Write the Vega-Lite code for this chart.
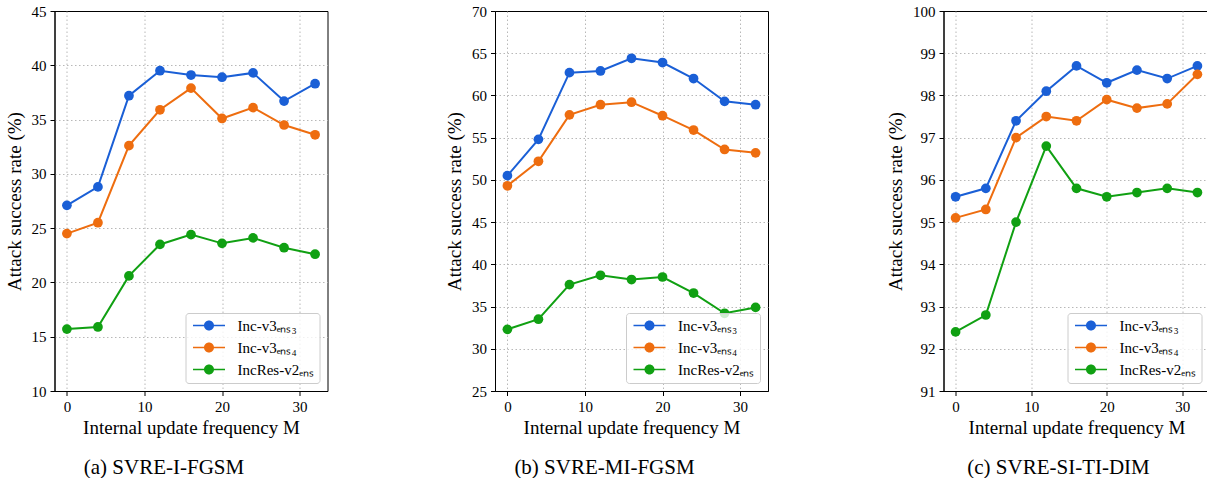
{
  "$schema": "https://vega.github.io/schema/vega-lite/v6.json",
  "background": "white",
  "padding": {"left": 4.5, "top": 3, "right": 0, "bottom": 0},
  "spacing": 116.5,
  "data": {"values": [
    {"panel": "a", "model": "Inc-v3ens3", "M": 0, "rate": 27.1},
    {"panel": "a", "model": "Inc-v3ens3", "M": 4, "rate": 28.8},
    {"panel": "a", "model": "Inc-v3ens3", "M": 8, "rate": 37.2},
    {"panel": "a", "model": "Inc-v3ens3", "M": 12, "rate": 39.5},
    {"panel": "a", "model": "Inc-v3ens3", "M": 16, "rate": 39.1},
    {"panel": "a", "model": "Inc-v3ens3", "M": 20, "rate": 38.9},
    {"panel": "a", "model": "Inc-v3ens3", "M": 24, "rate": 39.3},
    {"panel": "a", "model": "Inc-v3ens3", "M": 28, "rate": 36.7},
    {"panel": "a", "model": "Inc-v3ens3", "M": 32, "rate": 38.3},
    {"panel": "a", "model": "Inc-v3ens4", "M": 0, "rate": 24.5},
    {"panel": "a", "model": "Inc-v3ens4", "M": 4, "rate": 25.5},
    {"panel": "a", "model": "Inc-v3ens4", "M": 8, "rate": 32.6},
    {"panel": "a", "model": "Inc-v3ens4", "M": 12, "rate": 35.9},
    {"panel": "a", "model": "Inc-v3ens4", "M": 16, "rate": 37.9},
    {"panel": "a", "model": "Inc-v3ens4", "M": 20, "rate": 35.1},
    {"panel": "a", "model": "Inc-v3ens4", "M": 24, "rate": 36.1},
    {"panel": "a", "model": "Inc-v3ens4", "M": 28, "rate": 34.5},
    {"panel": "a", "model": "Inc-v3ens4", "M": 32, "rate": 33.6},
    {"panel": "a", "model": "IncRes-v2ens", "M": 0, "rate": 15.7},
    {"panel": "a", "model": "IncRes-v2ens", "M": 4, "rate": 15.9},
    {"panel": "a", "model": "IncRes-v2ens", "M": 8, "rate": 20.6},
    {"panel": "a", "model": "IncRes-v2ens", "M": 12, "rate": 23.5},
    {"panel": "a", "model": "IncRes-v2ens", "M": 16, "rate": 24.4},
    {"panel": "a", "model": "IncRes-v2ens", "M": 20, "rate": 23.6},
    {"panel": "a", "model": "IncRes-v2ens", "M": 24, "rate": 24.1},
    {"panel": "a", "model": "IncRes-v2ens", "M": 28, "rate": 23.2},
    {"panel": "a", "model": "IncRes-v2ens", "M": 32, "rate": 22.6},
    {"panel": "b", "model": "Inc-v3ens3", "M": 0, "rate": 50.5},
    {"panel": "b", "model": "Inc-v3ens3", "M": 4, "rate": 54.8},
    {"panel": "b", "model": "Inc-v3ens3", "M": 8, "rate": 62.7},
    {"panel": "b", "model": "Inc-v3ens3", "M": 12, "rate": 62.9},
    {"panel": "b", "model": "Inc-v3ens3", "M": 16, "rate": 64.4},
    {"panel": "b", "model": "Inc-v3ens3", "M": 20, "rate": 63.9},
    {"panel": "b", "model": "Inc-v3ens3", "M": 24, "rate": 62.0},
    {"panel": "b", "model": "Inc-v3ens3", "M": 28, "rate": 59.3},
    {"panel": "b", "model": "Inc-v3ens3", "M": 32, "rate": 58.9},
    {"panel": "b", "model": "Inc-v3ens4", "M": 0, "rate": 49.3},
    {"panel": "b", "model": "Inc-v3ens4", "M": 4, "rate": 52.2},
    {"panel": "b", "model": "Inc-v3ens4", "M": 8, "rate": 57.7},
    {"panel": "b", "model": "Inc-v3ens4", "M": 12, "rate": 58.9},
    {"panel": "b", "model": "Inc-v3ens4", "M": 16, "rate": 59.2},
    {"panel": "b", "model": "Inc-v3ens4", "M": 20, "rate": 57.6},
    {"panel": "b", "model": "Inc-v3ens4", "M": 24, "rate": 55.9},
    {"panel": "b", "model": "Inc-v3ens4", "M": 28, "rate": 53.6},
    {"panel": "b", "model": "Inc-v3ens4", "M": 32, "rate": 53.2},
    {"panel": "b", "model": "IncRes-v2ens", "M": 0, "rate": 32.3},
    {"panel": "b", "model": "IncRes-v2ens", "M": 4, "rate": 33.5},
    {"panel": "b", "model": "IncRes-v2ens", "M": 8, "rate": 37.6},
    {"panel": "b", "model": "IncRes-v2ens", "M": 12, "rate": 38.7},
    {"panel": "b", "model": "IncRes-v2ens", "M": 16, "rate": 38.2},
    {"panel": "b", "model": "IncRes-v2ens", "M": 20, "rate": 38.5},
    {"panel": "b", "model": "IncRes-v2ens", "M": 24, "rate": 36.6},
    {"panel": "b", "model": "IncRes-v2ens", "M": 28, "rate": 34.2},
    {"panel": "b", "model": "IncRes-v2ens", "M": 32, "rate": 34.9},
    {"panel": "c", "model": "Inc-v3ens3", "M": 0, "rate": 95.6},
    {"panel": "c", "model": "Inc-v3ens3", "M": 4, "rate": 95.8},
    {"panel": "c", "model": "Inc-v3ens3", "M": 8, "rate": 97.4},
    {"panel": "c", "model": "Inc-v3ens3", "M": 12, "rate": 98.1},
    {"panel": "c", "model": "Inc-v3ens3", "M": 16, "rate": 98.7},
    {"panel": "c", "model": "Inc-v3ens3", "M": 20, "rate": 98.3},
    {"panel": "c", "model": "Inc-v3ens3", "M": 24, "rate": 98.6},
    {"panel": "c", "model": "Inc-v3ens3", "M": 28, "rate": 98.4},
    {"panel": "c", "model": "Inc-v3ens3", "M": 32, "rate": 98.7},
    {"panel": "c", "model": "Inc-v3ens4", "M": 0, "rate": 95.1},
    {"panel": "c", "model": "Inc-v3ens4", "M": 4, "rate": 95.3},
    {"panel": "c", "model": "Inc-v3ens4", "M": 8, "rate": 97.0},
    {"panel": "c", "model": "Inc-v3ens4", "M": 12, "rate": 97.5},
    {"panel": "c", "model": "Inc-v3ens4", "M": 16, "rate": 97.4},
    {"panel": "c", "model": "Inc-v3ens4", "M": 20, "rate": 97.9},
    {"panel": "c", "model": "Inc-v3ens4", "M": 24, "rate": 97.7},
    {"panel": "c", "model": "Inc-v3ens4", "M": 28, "rate": 97.8},
    {"panel": "c", "model": "Inc-v3ens4", "M": 32, "rate": 98.5},
    {"panel": "c", "model": "IncRes-v2ens", "M": 0, "rate": 92.4},
    {"panel": "c", "model": "IncRes-v2ens", "M": 4, "rate": 92.8},
    {"panel": "c", "model": "IncRes-v2ens", "M": 8, "rate": 95.0},
    {"panel": "c", "model": "IncRes-v2ens", "M": 12, "rate": 96.8},
    {"panel": "c", "model": "IncRes-v2ens", "M": 16, "rate": 95.8},
    {"panel": "c", "model": "IncRes-v2ens", "M": 20, "rate": 95.6},
    {"panel": "c", "model": "IncRes-v2ens", "M": 24, "rate": 95.7},
    {"panel": "c", "model": "IncRes-v2ens", "M": 28, "rate": 95.8},
    {"panel": "c", "model": "IncRes-v2ens", "M": 32, "rate": 95.7}
  ]},
  "hconcat": [
    {
      "width": 273, "height": 380,
      "title": {"text": "(a) SVRE-I-FGSM", "orient": "bottom", "dx": -27},
      "transform": [{"filter": "datum.panel === 'a'"}],
      "encoding": {
        "x": {"field": "M", "type": "quantitative", "scale": {"domain": [-1.6, 33.6], "nice": false, "zero": false}, "axis": {"values": [0, 10, 20, 30], "title": "Internal update frequency M"}},
        "y": {"field": "rate", "type": "quantitative", "scale": {"domain": [10, 45], "nice": false, "zero": false}, "axis": {"values": [10, 15, 20, 25, 30, 35, 40, 45], "title": "Attack success rate (%)", "gridOpacity": {"condition": {"test": "datum.value >= 45 || datum.value <= 10", "value": 0}, "value": 1}}}
      },
      "layer": [
        {"mark": {"type": "line", "strokeWidth": 2}, "encoding": {"stroke": {"field": "model", "type": "nominal", "scale": {"domain": ["Inc-v3ens3", "Inc-v3ens4", "IncRes-v2ens"], "range": ["#1a5fd6", "#ee6d0f", "#10a012"]}, "legend": null}}},
        {"mark": {"type": "point", "filled": true, "size": 95, "opacity": 1}, "encoding": {"color": {"field": "model", "type": "nominal", "scale": {"domain": ["Inc-v3ens3", "Inc-v3ens4", "IncRes-v2ens"], "range": ["#1a5fd6", "#ee6d0f", "#10a012"]}, "legend": {"title": null, "symbolType": "M-3.2,-0.15L3.2,-0.15L3.2,0.15L-3.2,0.15Z M-1,0A1,1 0 1,1 1,0A1,1 0 1,1 -1,0Z", "labelFont": "Liberation Serif", "labelFontSize": 15, "labelColor": "black", "labelOffset": 21, "labelLimit": 300, "labelExpr": "datum.label === 'Inc-v3ens3' ? 'Inc-v3ₑₙₛ₃' : datum.label === 'Inc-v3ens4' ? 'Inc-v3ₑₙₛ₄' : 'IncRes-v2ₑₙₛ'"}}}}
      ]
    },
    {
      "width": 273, "height": 380,
      "title": {"text": "(b) SVRE-MI-FGSM", "orient": "bottom", "dx": -27},
      "transform": [{"filter": "datum.panel === 'b'"}],
      "encoding": {
        "x": {"field": "M", "type": "quantitative", "scale": {"domain": [-1.6, 33.6], "nice": false, "zero": false}, "axis": {"values": [0, 10, 20, 30], "title": "Internal update frequency M"}},
        "y": {"field": "rate", "type": "quantitative", "scale": {"domain": [25, 70], "nice": false, "zero": false}, "axis": {"values": [25, 30, 35, 40, 45, 50, 55, 60, 65, 70], "title": "Attack success rate (%)", "gridOpacity": {"condition": {"test": "datum.value >= 70 || datum.value <= 25", "value": 0}, "value": 1}}}
      },
      "layer": [
        {"mark": {"type": "line", "strokeWidth": 2}, "encoding": {"stroke": {"field": "model", "type": "nominal", "scale": {"domain": ["Inc-v3ens3", "Inc-v3ens4", "IncRes-v2ens"], "range": ["#1a5fd6", "#ee6d0f", "#10a012"]}, "legend": null}}},
        {"mark": {"type": "point", "filled": true, "size": 95, "opacity": 1}, "encoding": {"color": {"field": "model", "type": "nominal", "scale": {"domain": ["Inc-v3ens3", "Inc-v3ens4", "IncRes-v2ens"], "range": ["#1a5fd6", "#ee6d0f", "#10a012"]}, "legend": {"title": null, "symbolType": "M-3.2,-0.15L3.2,-0.15L3.2,0.15L-3.2,0.15Z M-1,0A1,1 0 1,1 1,0A1,1 0 1,1 -1,0Z", "labelFont": "Liberation Serif", "labelFontSize": 15, "labelColor": "black", "labelOffset": 21, "labelLimit": 300, "labelExpr": "datum.label === 'Inc-v3ens3' ? 'Inc-v3ₑₙₛ₃' : datum.label === 'Inc-v3ens4' ? 'Inc-v3ₑₙₛ₄' : 'IncRes-v2ₑₙₛ'"}}}}
      ]
    },
    {
      "width": 266, "height": 380,
      "title": {"text": "(c) SVRE-SI-TI-DIM", "orient": "bottom", "dx": -18},
      "transform": [{"filter": "datum.panel === 'c'"}],
      "encoding": {
        "x": {"field": "M", "type": "quantitative", "scale": {"domain": [-1.6, 33.6], "nice": false, "zero": false}, "axis": {"values": [0, 10, 20, 30], "title": "Internal update frequency M"}},
        "y": {"field": "rate", "type": "quantitative", "scale": {"domain": [91, 100], "nice": false, "zero": false}, "axis": {"values": [91, 92, 93, 94, 95, 96, 97, 98, 99, 100], "title": "Attack success rate (%)", "gridOpacity": {"condition": {"test": "datum.value >= 100 || datum.value <= 91", "value": 0}, "value": 1}}}
      },
      "layer": [
        {"mark": {"type": "line", "strokeWidth": 2}, "encoding": {"stroke": {"field": "model", "type": "nominal", "scale": {"domain": ["Inc-v3ens3", "Inc-v3ens4", "IncRes-v2ens"], "range": ["#1a5fd6", "#ee6d0f", "#10a012"]}, "legend": null}}},
        {"mark": {"type": "point", "filled": true, "size": 95, "opacity": 1}, "encoding": {"color": {"field": "model", "type": "nominal", "scale": {"domain": ["Inc-v3ens3", "Inc-v3ens4", "IncRes-v2ens"], "range": ["#1a5fd6", "#ee6d0f", "#10a012"]}, "legend": {"title": null, "symbolType": "M-3.2,-0.15L3.2,-0.15L3.2,0.15L-3.2,0.15Z M-1,0A1,1 0 1,1 1,0A1,1 0 1,1 -1,0Z", "labelFont": "Liberation Serif", "labelFontSize": 15, "labelColor": "black", "labelOffset": 21, "labelLimit": 300, "labelExpr": "datum.label === 'Inc-v3ens3' ? 'Inc-v3ₑₙₛ₃' : datum.label === 'Inc-v3ens4' ? 'Inc-v3ₑₙₛ₄' : 'IncRes-v2ₑₙₛ'"}}}}
      ]
    }
  ],
  "resolve": {"scale": {"x": "independent", "y": "independent", "color": "independent"}, "legend": {"color": "independent"}},
  "config": {
    "view": {"stroke": "black", "strokeWidth": 1},
    "axis": {
      "labelFont": "Liberation Serif", "labelFontSize": 15, "labelColor": "black",
      "titleFont": "Liberation Serif", "titleFontSize": 19, "titleFontWeight": "normal", "titleColor": "black",
      "tickColor": "black", "tickSize": 4.5, "tickWidth": 1, "domain": true, "domainColor": "black", "domainWidth": 1,
      "grid": true, "gridColor": "#b0b0b0", "gridDash": [1.5, 2.5], "gridWidth": 0.9,
      "labelPadding": 4, "labelFlush": false, "labelOverlap": false
    },
    "axisX": {"titlePadding": 4},
    "axisY": {"titlePadding": 7},
    "title": {"font": "Liberation Serif", "fontSize": 21, "fontWeight": "normal", "color": "black", "offset": 19},
    "legend": {
      "orient": "bottom-right", "offset": 8,
      "fillColor": "rgba(255,255,255,0.8)", "strokeColor": "#cccccc", "cornerRadius": 3, "padding": 5,
      "symbolSize": 100, "symbolOffset": 11, "symbolStrokeWidth": 0, "rowPadding": 6
    }
  }
}
